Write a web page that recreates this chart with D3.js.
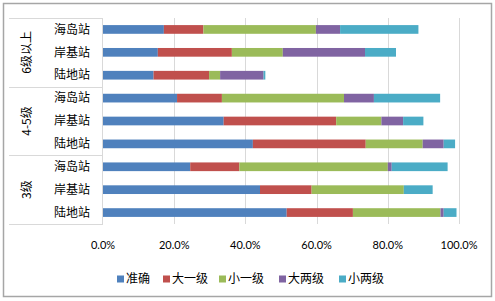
<!DOCTYPE html>
<html>
<head>
<meta charset="utf-8">
<script src="https://cdn.jsdelivr.net/npm/d3@7"></script>
<style>
  body { margin: 0; background: #fff; }
  svg { display: block; }
</style>
</head>
<body>
<div id="chart"></div>
<script>
// data, percentages
const groups = ["6级以上", "4-5级", "3级"];
const stations = ["海岛站", "岸基站", "陆地站"];
const seriesNames = ["准确", "大一级", "小一级", "大两级", "小两级"];
const colors = ["#4F81BD", "#C0504D", "#9BBB59", "#8064A2", "#4BACC6"];

const accurate = [17.1, 15.4, 14.2, 20.8, 33.9, 42.1, 24.5, 44.1, 51.6];
const bigOne   = [11.1, 20.8, 15.6, 12.6, 31.6, 31.7, 13.8, 14.5, 18.6];
const smallOne = [31.6, 14.3,  3.1, 34.3, 12.7, 16.0, 41.7, 25.9, 24.6];
const bigTwo   = [ 6.8, 23.1, 12.2,  8.4,  6.1,  5.9,  1.1,  0.0,  0.9];
const smallTwo = [22.0,  8.7,  0.5, 18.6,  5.7,  3.2, 15.7,  8.1,  3.6];

const xTicks = [0, 20, 40, 60, 80, 100];

const width = 495, height = 301;
const plot = { left: 103, right: 459, top: 18, bottom: 224 };
const catLeft = 9;

const rows = [];
groups.forEach((g, gi) => stations.forEach((s, si) => {
  const i = gi * 3 + si;
  rows.push({ key: g + "|" + s, group: g, station: s,
    "准确": accurate[i], "大一级": bigOne[i], "小一级": smallOne[i],
    "大两级": bigTwo[i], "小两级": smallTwo[i] });
}));

const svg = d3.select("#chart").append("svg")
  .attr("width", width).attr("height", height);

// chart frame
svg.append("rect")
  .attr("x", 3.5).attr("y", 3.5)
  .attr("width", 488).attr("height", 293)
  .attr("fill", "#fff")
  .attr("stroke", "#a6a6a6").attr("stroke-width", 1.5);

const x = d3.scaleLinear().domain([0, 100]).range([plot.left, plot.right]);
const y = d3.scaleBand().domain(rows.map(d => d.key))
  .range([plot.top, plot.bottom]).paddingInner(0.62).paddingOuter(0.31);

// gridlines
svg.append("g")
  .selectAll("line")
  .data(xTicks.slice(1))
  .join("line")
  .attr("x1", d => Math.round(x(d)) + 0.5).attr("x2", d => Math.round(x(d)) + 0.5)
  .attr("y1", plot.top).attr("y2", plot.bottom)
  .attr("stroke", "#d9d9d9").attr("stroke-width", 1);

// category axis lines
const gridColor = "#d9d9d9";
svg.append("line")
  .attr("x1", plot.left - 0.5).attr("x2", plot.left - 0.5)
  .attr("y1", plot.top).attr("y2", plot.bottom)
  .attr("stroke", gridColor);

const step = (plot.bottom - plot.top) / 3;
svg.append("g")
  .selectAll("line")
  .data(d3.range(4))
  .join("line")
  .attr("x1", catLeft).attr("x2", plot.left)
  .attr("y1", i => Math.round(plot.top + i * step) + 0.5)
  .attr("y2", i => Math.round(plot.top + i * step) + 0.5)
  .attr("stroke", gridColor);

// stacked bars
const stack = d3.stack().keys(seriesNames);
const stacked = stack(rows);

svg.append("g")
  .selectAll("g")
  .data(stacked)
  .join("g")
  .attr("fill", (d, i) => colors[i])
  .selectAll("rect")
  .data(d => d)
  .join("rect")
  .attr("x", d => x(d[0]))
  .attr("y", d => y(d.data.key))
  .attr("width", d => Math.max(0, x(d[1]) - x(d[0])))
  .attr("height", y.bandwidth());

// station labels
svg.append("g")
  .style("font", "12px 'Noto Sans CJK SC', sans-serif")
  .attr("fill", "#000")
  .attr("text-anchor", "end")
  .selectAll("text")
  .data(rows)
  .join("text")
  .attr("x", 90)
  .attr("y", d => y(d.key) + y.bandwidth() / 2)
  .attr("dy", "0.35em")
  .text(d => d.station);

// group labels (rotated)
svg.append("g")
  .style("font", "12px 'Noto Sans CJK SC', sans-serif")
  .attr("fill", "#000")
  .attr("text-anchor", "middle")
  .selectAll("text")
  .data(groups)
  .join("text")
  .attr("transform", (d, i) => `translate(27,${plot.top + (i + 0.5) * step}) rotate(-90)`)
  .attr("dy", "0.35em")
  .text(d => d);

// x tick labels
svg.append("g")
  .style("font", "11px Lato, 'Open Sans', sans-serif")
  .attr("fill", "#000")
  .attr("text-anchor", "middle")
  .selectAll("text")
  .data(xTicks)
  .join("text")
  .attr("x", d => x(d))
  .attr("y", 245)
  .attr("dy", "0.35em")
  .text(d => d3.format(".1f")(d) + "%");

// legend
const legendX = [117, 163, 219, 279, 339];
const legend = svg.append("g")
  .style("font", "12px 'Noto Sans CJK SC', sans-serif")
  .selectAll("g")
  .data(seriesNames)
  .join("g")
  .attr("transform", (d, i) => `translate(${legendX[i]},279)`);

legend.append("rect")
  .attr("x", 0).attr("y", -3.5)
  .attr("width", 7).attr("height", 7)
  .attr("fill", (d, i) => colors[i]);

legend.append("text")
  .attr("x", 9).attr("dy", "0.35em")
  .text(d => d);
</script>
</body>
</html>
